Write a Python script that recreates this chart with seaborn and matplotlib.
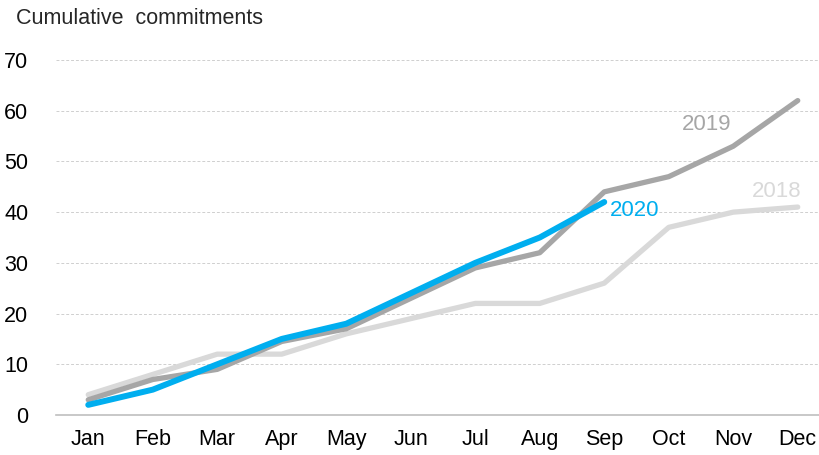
import matplotlib
matplotlib.use("Agg")
import matplotlib.pyplot as plt
import seaborn as sns
import pandas as pd

months = ['Jan', 'Feb', 'Mar', 'Apr', 'May', 'Jun', 'Jul', 'Aug', 'Sep', 'Oct', 'Nov', 'Dec']
v2018 = [4, 8, 12, 12, 16, 19, 22, 22, 26, 37, 40, 41]
v2019 = [3, 7, 9, 14.5, 17, 23, 29, 32, 44, 47, 53, 62]
v2020 = [2, 5, 10, 15, 18, 24, 30, 35, 42]
years = ['2018', '2019', '2020']
colores = {'2018': '#D9D9D9', '2019': '#A6A6A6', '2020': '#00AEEF'}

filas = []
for y, vals in zip(years, [v2018, v2019, v2020]):
    for i, v in enumerate(vals):
        filas.append({'pos': i, 'mes': months[i], 'valor': v, 'anio': y})
df = pd.DataFrame(filas)

sns.set_style('white')
plt.rcParams['font.family'] = ['Liberation Sans', 'DejaVu Sans']

fig = plt.figure(figsize=(8.19, 4.55), dpi=100)
ax = fig.add_axes([56 / 819, 40 / 455, 774 / 819, 355 / 455])

sns.lineplot(data=df, x='pos', y='valor', hue='anio', hue_order=years,
             palette=colores, linewidth=3.8, ax=ax, legend=False,
             solid_capstyle='round')
ax.lines[-1].set_linewidth(4.3)

ax.set_xlim(-0.5, 11.5)
ax.set_ylim(0, 70)
ax.set_yticks(range(0, 71, 10))
ax.set_xticks(range(12))
ax.set_xticklabels(months)
ax.set_xticks([i + 0.5 for i in range(-1, 12)], minor=True)
ax.tick_params(axis='x', which='major', length=0, labelsize=15.5, pad=10, colors='black')
ax.tick_params(axis='x', which='minor', length=6, width=1, color='#BFBFBF', direction='out')
ax.tick_params(axis='y', length=0, labelsize=15.5, pad=20, colors='black')
ax.set_xlabel('')
ax.set_ylabel('')
ax.yaxis.grid(True, linestyle=(0, (3, 2)), color='#CFCFCF', linewidth=0.7)
ax.set_axisbelow(True)
for s in ['top', 'right', 'left']:
    ax.spines[s].set_visible(False)
ax.spines['bottom'].set_color('#BFBFBF')
ax.spines['bottom'].set_linewidth(1.2)

ax.text(9.2, 57.2, '2019', color='#A6A6A6', fontsize=16, ha='left', va='center')
ax.text(10.29, 44.0, '2018', color='#D9D9D9', fontsize=16, ha='left', va='center')
ax.text(8.09, 40.4, '2020', color='#00AEEF', fontsize=16, ha='left', va='center')

fig.text(16 / 819, 1 - 18 / 455, 'Cumulative  commitments', fontsize=15.5, ha='left', va='center')

fig.savefig('out.png', dpi=100)
